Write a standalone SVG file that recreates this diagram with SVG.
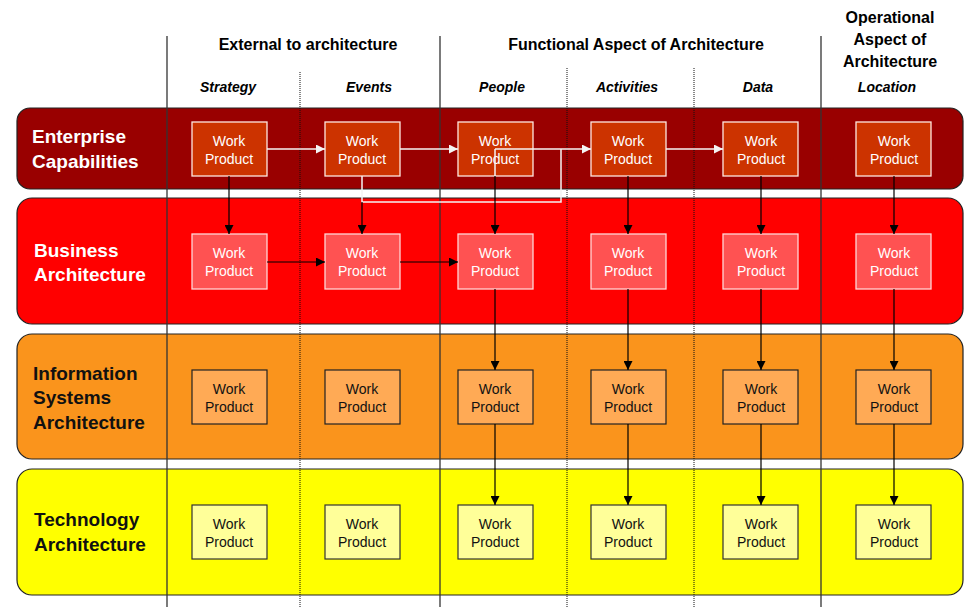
<svg xmlns="http://www.w3.org/2000/svg" width="967" height="607" viewBox="0 0 967 607">
<defs>
<style>
text{font-family:"Liberation Sans",Arial,sans-serif}
.hdr{font-size:16px;font-weight:bold;fill:#000;text-anchor:middle}
.col{font-size:14px;font-weight:bold;font-style:italic;fill:#000;text-anchor:middle}
.rl{font-size:19px;font-weight:bold}
.wp{font-size:14px;text-anchor:middle}
.band{stroke:#222;stroke-width:1.2}
.b1{fill:#CC3300;stroke:#FFE8E0;stroke-width:1.3}
.b2{fill:#FF5252;stroke:#FFD6D6;stroke-width:1.3}
.b3{fill:#FFAA55;stroke:#222;stroke-width:1.2}
.b4{fill:#FFFF99;stroke:#333;stroke-width:1.2}
.t1{fill:#FFF}
.t3{fill:#111}
.vl{stroke:#333;stroke-width:1.3;fill:none}
.dl{stroke:#111;stroke-width:1;stroke-dasharray:1,1;fill:none}
.ab{stroke:#000;stroke-width:1.2;fill:none;marker-end:url(#ah)}
.aw{stroke:#F4F4F4;stroke-width:1.5;fill:none;marker-end:url(#aw)}
.lw{stroke:#F4F4F4;stroke-width:1.5;fill:none}
</style>
<marker id="ah" viewBox="0 0 10 10" refX="10" refY="5" markerWidth="9" markerHeight="9" markerUnits="userSpaceOnUse" orient="auto"><path d="M0,0 L10,5 L0,10 Z" fill="#000"/></marker>
<marker id="aw" viewBox="0 0 10 10" refX="10" refY="5" markerWidth="9" markerHeight="9" markerUnits="userSpaceOnUse" orient="auto"><path d="M0,0 L10,5 L0,10 Z" fill="#F4F4F4"/></marker>
</defs>
<rect width="967" height="607" fill="#FFF"/>

<!-- bands -->
<g id="band-enterprise">
<rect class="band" x="17" y="108" width="946" height="81" rx="13" fill="#990000"/>
<text class="rl t1" x="32" y="143">Enterprise</text>
<text class="rl t1" x="32" y="168">Capabilities</text>
</g>
<g id="band-business">
<rect class="band" x="17" y="198" width="946" height="126" rx="15" fill="#FF0000"/>
<text class="rl t1" x="34" y="257">Business</text>
<text class="rl t1" x="34" y="281">Architecture</text>
</g>
<g id="band-infosys">
<rect class="band" x="17" y="334" width="946" height="125" rx="15" fill="#FA941C" stroke="#444"/>
<text class="rl t3" x="33" y="380">Information</text>
<text class="rl t3" x="33" y="404">Systems</text>
<text class="rl t3" x="33" y="429">Architecture</text>
</g>
<g id="band-technology">
<rect class="band" x="17" y="469" width="946" height="126" rx="15" fill="#FFFF00" stroke="#444"/>
<text class="rl t3" x="34" y="526">Technology</text>
<text class="rl t3" x="34" y="551">Architecture</text>
</g>

<!-- column dividers -->
<g id="dividers">
<line class="vl" x1="167" y1="36" x2="167" y2="607"/>
<line class="vl" x1="440" y1="36" x2="440" y2="607"/>
<line class="vl" x1="821" y1="36" x2="821" y2="607"/>
<line class="dl" x1="300" y1="72" x2="300" y2="607"/>
<line class="dl" x1="567" y1="68" x2="567" y2="607"/>
<line class="dl" x1="694" y1="68" x2="694" y2="607"/>
</g>

<!-- headers -->
<g id="headers">
<text class="hdr" x="308" y="50">External to architecture</text>
<text class="hdr" x="636" y="50">Functional Aspect of Architecture</text>
<text class="hdr" x="890" y="23">Operational</text>
<text class="hdr" x="890" y="45">Aspect of</text>
<text class="hdr" x="890" y="67">Architecture</text>
<text class="col" x="228" y="92">Strategy</text>
<text class="col" x="369" y="92">Events</text>
<text class="col" x="502" y="92">People</text>
<text class="col" x="627" y="92">Activities</text>
<text class="col" x="758" y="92">Data</text>
<text class="col" x="887" y="92">Location</text>
</g>

<!-- row 1 nodes -->
<g id="ec-strategy"><rect class="b1" x="192" y="122" width="75" height="54"/><text class="wp t1" x="229" y="146">Work</text><text class="wp t1" x="229" y="164">Product</text></g>
<g id="ec-events"><rect class="b1" x="325" y="122" width="75" height="54"/><text class="wp t1" x="362" y="146">Work</text><text class="wp t1" x="362" y="164">Product</text></g>
<g id="ec-people"><rect class="b1" x="458" y="122" width="75" height="54"/><text class="wp t1" x="495" y="146">Work</text><text class="wp t1" x="495" y="164">Product</text></g>
<g id="ec-activities"><rect class="b1" x="591" y="122" width="75" height="54"/><text class="wp t1" x="628" y="146">Work</text><text class="wp t1" x="628" y="164">Product</text></g>
<g id="ec-data"><rect class="b1" x="723" y="122" width="75" height="54"/><text class="wp t1" x="761" y="146">Work</text><text class="wp t1" x="761" y="164">Product</text></g>
<g id="ec-location"><rect class="b1" x="856" y="122" width="75" height="54"/><text class="wp t1" x="894" y="146">Work</text><text class="wp t1" x="894" y="164">Product</text></g>

<!-- row 2 nodes -->
<g id="ba-strategy"><rect class="b2" x="192" y="234" width="75" height="55"/><text class="wp t1" x="229" y="258">Work</text><text class="wp t1" x="229" y="276">Product</text></g>
<g id="ba-events"><rect class="b2" x="325" y="234" width="75" height="55"/><text class="wp t1" x="362" y="258">Work</text><text class="wp t1" x="362" y="276">Product</text></g>
<g id="ba-people"><rect class="b2" x="458" y="234" width="75" height="55"/><text class="wp t1" x="495" y="258">Work</text><text class="wp t1" x="495" y="276">Product</text></g>
<g id="ba-activities"><rect class="b2" x="591" y="234" width="75" height="55"/><text class="wp t1" x="628" y="258">Work</text><text class="wp t1" x="628" y="276">Product</text></g>
<g id="ba-data"><rect class="b2" x="723" y="234" width="75" height="55"/><text class="wp t1" x="761" y="258">Work</text><text class="wp t1" x="761" y="276">Product</text></g>
<g id="ba-location"><rect class="b2" x="856" y="234" width="75" height="55"/><text class="wp t1" x="894" y="258">Work</text><text class="wp t1" x="894" y="276">Product</text></g>

<!-- row 3 nodes -->
<g id="is-strategy"><rect class="b3" x="192" y="370" width="75" height="54"/><text class="wp t3" x="229" y="394">Work</text><text class="wp t3" x="229" y="412">Product</text></g>
<g id="is-events"><rect class="b3" x="325" y="370" width="75" height="54"/><text class="wp t3" x="362" y="394">Work</text><text class="wp t3" x="362" y="412">Product</text></g>
<g id="is-people"><rect class="b3" x="458" y="370" width="75" height="54"/><text class="wp t3" x="495" y="394">Work</text><text class="wp t3" x="495" y="412">Product</text></g>
<g id="is-activities"><rect class="b3" x="591" y="370" width="75" height="54"/><text class="wp t3" x="628" y="394">Work</text><text class="wp t3" x="628" y="412">Product</text></g>
<g id="is-data"><rect class="b3" x="723" y="370" width="75" height="54"/><text class="wp t3" x="761" y="394">Work</text><text class="wp t3" x="761" y="412">Product</text></g>
<g id="is-location"><rect class="b3" x="856" y="370" width="75" height="54"/><text class="wp t3" x="894" y="394">Work</text><text class="wp t3" x="894" y="412">Product</text></g>

<!-- row 4 nodes -->
<g id="ta-strategy"><rect class="b4" x="192" y="505" width="75" height="54"/><text class="wp t3" x="229" y="529">Work</text><text class="wp t3" x="229" y="547">Product</text></g>
<g id="ta-events"><rect class="b4" x="325" y="505" width="75" height="54"/><text class="wp t3" x="362" y="529">Work</text><text class="wp t3" x="362" y="547">Product</text></g>
<g id="ta-people"><rect class="b4" x="458" y="505" width="75" height="54"/><text class="wp t3" x="495" y="529">Work</text><text class="wp t3" x="495" y="547">Product</text></g>
<g id="ta-activities"><rect class="b4" x="591" y="505" width="75" height="54"/><text class="wp t3" x="628" y="529">Work</text><text class="wp t3" x="628" y="547">Product</text></g>
<g id="ta-data"><rect class="b4" x="723" y="505" width="75" height="54"/><text class="wp t3" x="761" y="529">Work</text><text class="wp t3" x="761" y="547">Product</text></g>
<g id="ta-location"><rect class="b4" x="856" y="505" width="75" height="54"/><text class="wp t3" x="894" y="529">Work</text><text class="wp t3" x="894" y="547">Product</text></g>

<!-- connectors -->
<g id="connectors">
<line class="aw" x1="267" y1="149" x2="325" y2="149"/>
<line class="aw" x1="400" y1="149" x2="458" y2="149"/>
<line class="aw" x1="495" y1="149" x2="591" y2="149"/>
<line class="aw" x1="666" y1="149" x2="723" y2="149"/>
<polyline class="lw" points="362,176 362,202 561,202 561,149"/>
<line class="lw" x1="495" y1="149" x2="495" y2="176"/>
<line class="ab" x1="229" y1="176" x2="229" y2="234"/>
<line class="ab" x1="362" y1="202" x2="362" y2="234"/>
<line class="ab" x1="495" y1="176" x2="495" y2="234"/>
<line class="ab" x1="628" y1="176" x2="628" y2="234"/>
<line class="ab" x1="761" y1="176" x2="761" y2="234"/>
<line class="ab" x1="894" y1="176" x2="894" y2="234"/>
<line class="ab" x1="267" y1="262" x2="325" y2="262"/>
<line class="ab" x1="400" y1="262" x2="458" y2="262"/>
<line class="ab" x1="495" y1="289" x2="495" y2="370"/>
<line class="ab" x1="628" y1="289" x2="628" y2="370"/>
<line class="ab" x1="761" y1="289" x2="761" y2="370"/>
<line class="ab" x1="894" y1="289" x2="894" y2="370"/>
<line class="ab" x1="495" y1="424" x2="495" y2="505"/>
<line class="ab" x1="628" y1="424" x2="628" y2="505"/>
<line class="ab" x1="761" y1="424" x2="761" y2="505"/>
<line class="ab" x1="894" y1="424" x2="894" y2="505"/>
</g>
</svg>
